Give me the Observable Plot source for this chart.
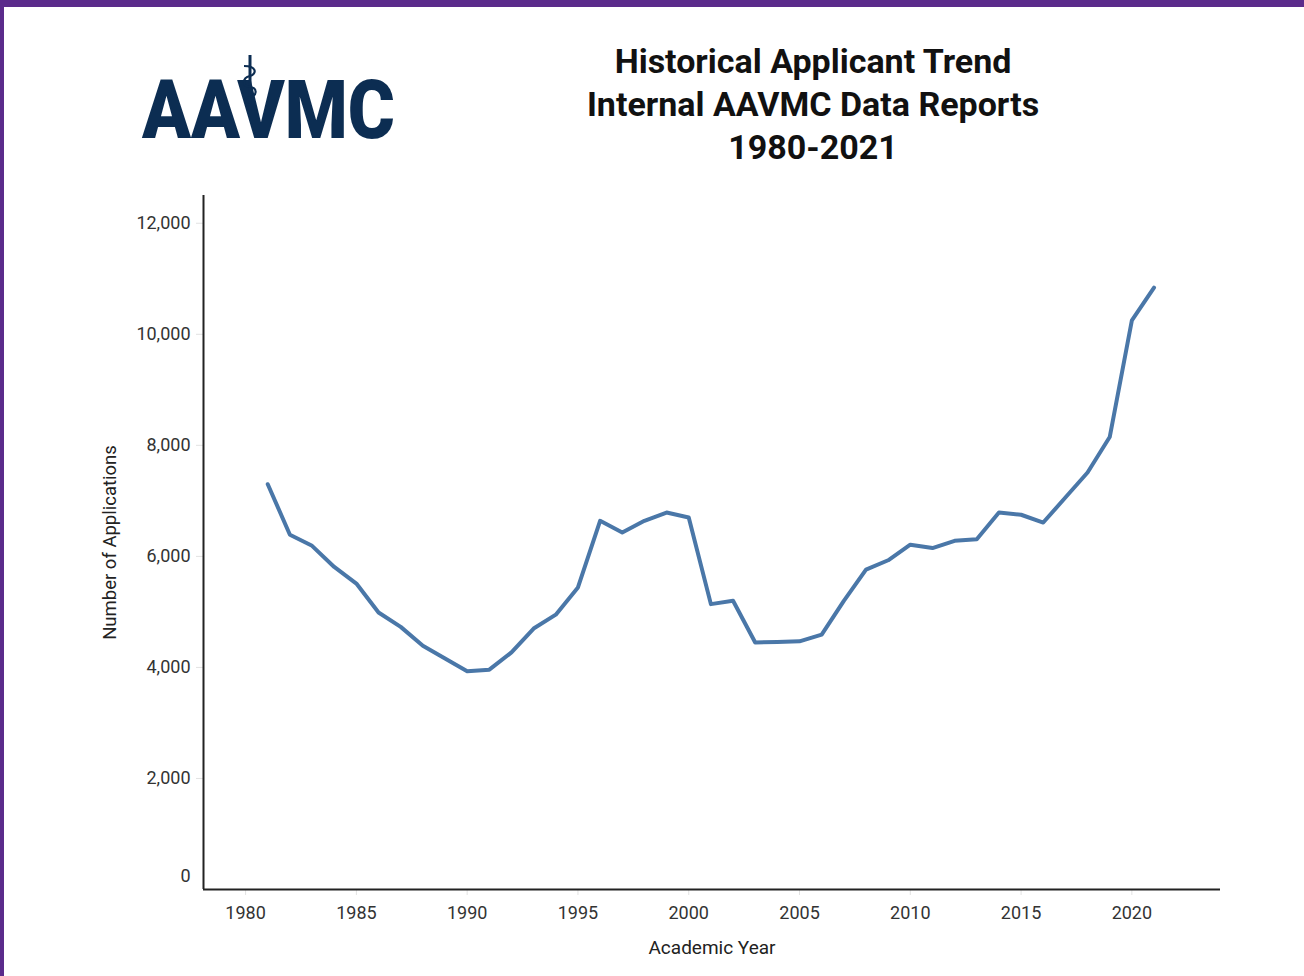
<!DOCTYPE html>
<html>
<head>
<meta charset="utf-8">
<script src="https://cdn.jsdelivr.net/npm/d3@7"></script>
<script src="https://cdn.jsdelivr.net/npm/@observablehq/plot@0.6"></script>
<style>
  html, body { margin: 0; padding: 0; background: #fff; }
  #page { position: relative; width: 1304px; height: 976px; background: #fff; overflow: hidden;
          box-sizing: border-box; border-top: 7px solid #5b2b8b; border-left: 4px solid #5b2b8b; }
  #inner { position: absolute; left: -4px; top: -7px; width: 1304px; height: 976px; }
  #title { position: absolute; left: 463px; width: 700px; top: 40px; text-align: center;
           font-family: Roboto, "Noto Sans", sans-serif; font-weight: 700; font-size: 34px;
           line-height: 43px; color: #111; }
  #logo { position: absolute; left: 0; top: 0; }
  #chart { position: absolute; left: 0; top: 180px; }
  #chart svg { background: transparent; }
</style>
</head>
<body>
<div id="page"><div id="inner">
  <svg id="logo" width="440" height="170">
    <text x="142" y="138" font-family="Roboto, 'Liberation Sans', sans-serif" font-weight="900" font-size="82"
          fill="#0c2d52" textLength="253" lengthAdjust="spacingAndGlyphs">AAVMC</text>
    <line x1="250" y1="55" x2="250" y2="112" stroke="#0c2d52" stroke-width="3"/>
    <path d="M244,66 C257,66 257,74 250,76 C242,78 242,86 250,87 C258,88 257,96 250,97 C244,98 244,104 250,105"
          fill="none" stroke="#0c2d52" stroke-width="2.2"/>
  </svg>
  <div id="title"></div>
  <div id="chart"></div>
</div></div>
<script>
const titleLines = ["Historical Applicant Trend", "Internal AAVMC Data Reports", "1980-2021"];
const xLabel = "Academic Year";
const yLabel = "Number of Applications";

const years = [1981, 1982, 1983, 1984, 1985, 1986, 1987, 1988, 1989, 1990,
               1991, 1992, 1993, 1994, 1995, 1996, 1997, 1998, 1999, 2000,
               2001, 2002, 2003, 2004, 2005, 2006, 2007, 2008, 2009, 2010,
               2011, 2012, 2013, 2014, 2015, 2016, 2017, 2018, 2019, 2020, 2021];
const applications = [7300, 6390, 6190, 5810, 5510, 4990, 4730, 4390, 4160, 3930,
                      3960, 4270, 4700, 4950, 5440, 6640, 6430, 6640, 6790, 6700,
                      5140, 5200, 4450, 4460, 4470, 4590, 5200, 5760, 5930, 6210,
                      6150, 6280, 6310, 6790, 6750, 6610, 7060, 7510, 8150, 10250, 10840];
const xTicks = [1980, 1985, 1990, 1995, 2000, 2005, 2010, 2015, 2020];
const yTicks = [2000, 4000, 6000, 8000, 10000, 12000];
const yZeroTick = [0];

document.getElementById("title").innerHTML = titleLines.join("<br>");

const data = years.map((y, i) => ({year: y, value: applications[i]}));
const xMin = 1978.1, xMax = 2024;
const fmt = d3.format(",");

const chart = Plot.plot({
  width: 1304,
  height: 796,
  marginLeft: 203,
  marginRight: 84,
  marginTop: 15,
  marginBottom: 87,
  style: {fontFamily: "Roboto, 'Noto Sans', sans-serif", fontSize: "18px", color: "#333", background: "transparent"},
  x: {domain: [xMin, xMax]},
  y: {domain: [0, 12500]},
  marks: [
    Plot.axisX({ticks: xTicks, tickFormat: d => String(d), tickSize: 6, tickPadding: 11,
                stroke: "#e2e2e2", fill: "#333", label: null, fontSize: 18}),
    Plot.axisY({ticks: yTicks, tickFormat: fmt, tickSize: 7, tickPadding: 6,
                stroke: "#e2e2e2", fill: "#333", label: null, fontSize: 18}),
    Plot.text(yZeroTick, {x: xMin, y: d => d, text: d => fmt(d), dx: -13, dy: -13,
                          textAnchor: "end", fill: "#333", fontSize: 18}),
    Plot.ruleX([xMin], {stroke: "#222", strokeWidth: 2}),
    Plot.ruleY([0], {stroke: "#222", strokeWidth: 2}),
    Plot.line(data, {x: "year", y: "value", stroke: "#4a77a8", strokeWidth: 4,
                     strokeLinejoin: "round", strokeLinecap: "round"}),
    Plot.text([yLabel], {frameAnchor: "left", text: d => d, dx: -93, rotate: -90, textAnchor: "middle",
                         lineAnchor: "middle", fill: "#222", fontSize: 18.5}),
    Plot.text([xLabel], {frameAnchor: "bottom", text: d => d, dy: 58, lineAnchor: "middle",
                         textAnchor: "middle", fill: "#222", fontSize: 19})
  ]
});
document.getElementById("chart").appendChild(chart);
</script>
</body>
</html>
